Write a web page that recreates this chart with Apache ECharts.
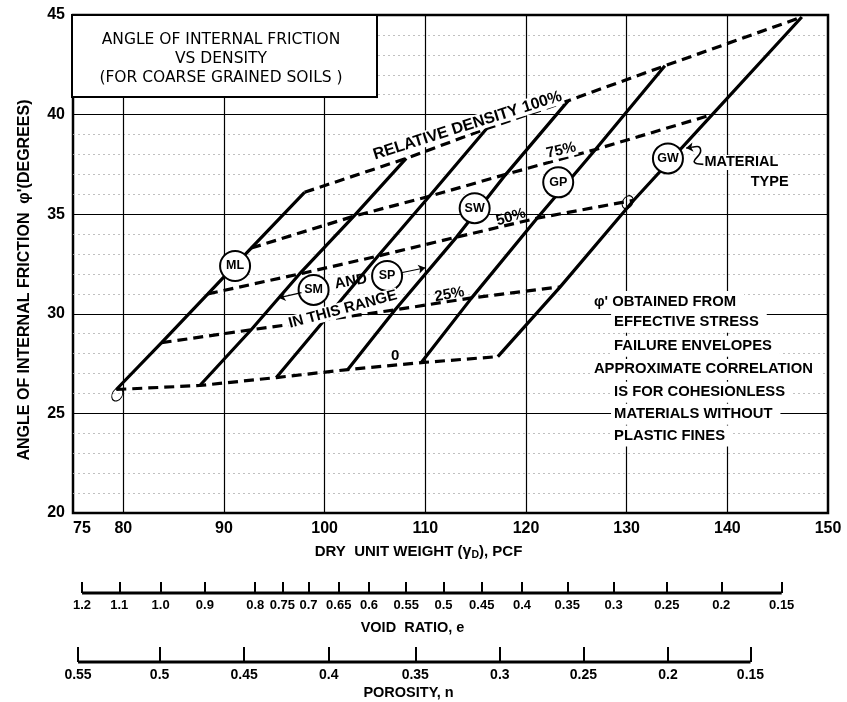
<!DOCTYPE html>
<html><head><meta charset="utf-8">
<script src="https://cdn.jsdelivr.net/npm/echarts@6/dist/echarts.min.js"></script>
<style>html,body{margin:0;padding:0;background:#fff}#c{width:847px;height:702px}</style>
</head><body><div id="c"></div>
<script>
// ---- data ----
// relative-density lines: [dry unit weight pcf, friction angle deg] where they meet material lines 1..6
const rd0   = [[79.3,26.2],[87.6,26.4],[95.2,26.8],[102.3,27.2],[109.6,27.55],[117.2,27.85]];
const rd25  = [[83.8,28.55],[92.7,29.2],[100.0,29.7],[107.0,30.2],[114.6,30.8],[123.4,31.35]];
const rd50  = [[88.4,31.0],[97.5,32.0],[105.3,32.9],[113.1,33.85],[121.1,34.8],[130.7,35.7]];
const rd75  = [[92.7,33.3],[102.9,34.9],[110.4,35.9],[118.0,37.0],[126.9,38.25],[138.5,40.0]];
const rd100 = [[98.0,36.1],[108.1,37.8],[116.1,39.3],[124.2,40.7],[133.8,42.45],[147.4,44.9]];
const materialTypes = ['ML','SM','SP','SW','GP','GW'];
const materialMarks = [[91.1,32.4],[98.9,31.2],[106.2,31.9],[114.9,35.3],[123.2,36.6],[134.1,37.8]];
const loopMarks = [[79.4,25.95],[130.1,35.6]];
const xTickValues = [75,80,90,100,110,120,130,140,150];
const xGridValues = [80,90,100,110,120,130,140];
const voidRatioLabels = ['1.2','1.1','1.0','0.9','0.8','0.75','0.7','0.65','0.6','0.55','0.5','0.45','0.4','0.35','0.3','0.25','0.2','0.15'];
const voidRatioAtPcf  = [75.9,79.6,83.7,88.1,93.1,95.8,98.4,101.4,104.4,108.1,111.8,115.6,119.6,124.1,128.7,134.0,139.4,145.4];
const porosityLabels = ['0.55','0.5','0.45','0.4','0.35','0.3','0.25','0.2','0.15'];
const porosityAtPcf  = [75.5,83.6,92.0,100.4,109.0,117.4,125.7,134.1,142.3];

// ---- annotations ----
const chartNotes = [
  {text:'RELATIVE DENSITY 100%', at:[114.2,39.45], rotate:17.5, size:16, bg:true},
  {text:'75%', at:[123.5,38.2], rotate:13, size:15, bg:true},
  {text:'50%', at:[118.5,34.85], rotate:17, size:15},
  {text:'25%', at:[112.4,30.97], rotate:10, size:15},
  {text:'0', at:[107.0,27.9], rotate:0, size:15},
  {text:'AND', at:[102.6,31.62], rotate:10, size:15},
  {text:'IN THIS RANGE', at:[101.8,30.22], rotate:15, size:15, bg:true},
  {text:'MATERIAL', at:[141.4,37.6], rotate:0, size:14.5, bg:true},
  {text:'TYPE', at:[144.2,36.63], rotate:0, size:14.5, bg:true}
];
const blockNotes = [
  {text:"\u03C6' OBTAINED FROM", at:[126.4,30.62]},
  {text:'EFFECTIVE STRESS', at:[128.4,29.57]},
  {text:'FAILURE ENVELOPES', at:[128.4,28.37]},
  {text:'APPROXIMATE CORRELATION', at:[126.4,27.21]},
  {text:'IS FOR COHESIONLESS', at:[128.4,26.06]},
  {text:'MATERIALS WITHOUT', at:[128.4,24.96]},
  {text:'PLASTIC FINES', at:[128.4,23.86]}
];
// hand-drawn pointers (SM -> line, SP -> line, GW squiggle)
const pointers = [
  [[97.7,31.06],[95.4,30.8]],
  [[107.6,32.06],[110.0,32.31]],
  [[136.5,38.36],[135.9,38.32]]
];
const squiggle = [[136.5,38.36],[137.0,38.4],[137.35,38.18],[136.7,37.64],[137.65,37.5]];

const FONT = '"Liberation Sans", "DejaVu Sans", sans-serif';
const L = 73, R = 19, LW = 3.2;

const densitySets = [rd0, rd25, rd50, rd75, rd100];
const densityNames = ['0%','25%','50%','75%','100%'];

function lookup(vals, labels, v){
  for (let i=0;i<vals.length;i++) if (Math.abs(vals[i]-v)<1e-6) return labels[i];
  return '';
}

const series = [];
// vertical grid lines
series.push({type:'line', data:[], silent:true, z:1,
  markLine:{silent:true, symbol:'none', z:1, label:{show:false},
    lineStyle:{color:'#000', width:1.2, type:'solid', opacity:1},
    emphasis:{disabled:true},
    data:xGridValues.map(v=>({xAxis:v}))}});
// relative density (dashed)
densitySets.forEach((set,k)=>{
  series.push({type:'line', name:'Relative density '+densityNames[k], data:set, symbol:'none', silent:true, z:3,
    lineStyle:{color:'#000', width:LW, type:[10,6], opacity:1}});
});
// material lines (solid)
materialTypes.forEach((m,i)=>{
  series.push({type:'line', name:m+' line', data:densitySets.map(s=>s[i]), symbol:'none', silent:true, z:3,
    lineStyle:{color:'#000', width:LW, type:'solid', opacity:1}});
});
// squiggle + pointers
series.push({type:'line', data:squiggle, symbol:'none', smooth:true, silent:true, z:6,
  lineStyle:{color:'#000', width:1.6, opacity:1},
  markLine:{silent:true, symbol:['none','arrow'], symbolSize:7, z:9, label:{show:false},
    lineStyle:{color:'#000', width:1.2, type:'solid', opacity:1},
    data:pointers.map(p=>[{coord:p[0]},{coord:p[1]}])}});
// small hand loops
series.push({type:'scatter', data:loopMarks, symbol:'circle', symbolSize:[10,14], symbolRotate:-30, silent:true, z:4,
  itemStyle:{color:'rgba(0,0,0,0)', borderColor:'#000', borderWidth:1, opacity:1}});
// material circles
series.push({type:'scatter', name:'Material type', z:8, silent:true,
  data:materialMarks.map((p,i)=>({value:p, name:materialTypes[i]})),
  symbol:'circle', symbolSize:30,
  itemStyle:{color:'#fff', borderColor:'#000', borderWidth:2, opacity:1},
  label:{show:true, position:'inside', formatter:'{b}', color:'#000', fontFamily:FONT, fontWeight:'bold', fontSize:12.5}});
// in-chart notes
series.push({type:'scatter', z:10, silent:true, symbolSize:1, itemStyle:{color:'rgba(0,0,0,0)', opacity:1},
  data:chartNotes.map(n=>({value:n.at, label:{show:true, formatter:n.text, position:'inside', rotate:n.rotate,
    color:'#000', fontFamily:FONT, fontWeight:'bold', fontSize:n.size,
    backgroundColor:n.bg?'#fff':'transparent', padding:[0,1]}}))});
// note block
series.push({type:'scatter', z:10, silent:true, symbolSize:1, itemStyle:{color:'rgba(0,0,0,0)', opacity:1},
  data:blockNotes.map(n=>({value:n.at, label:{show:true, formatter:n.text, position:'right', distance:0,
    color:'#000', fontFamily:FONT, fontWeight:'bold', fontSize:14.8,
    backgroundColor:'#fff', padding:[3,8,3,3]}}))});
// void ratio bar
series.push({type:'line', xAxisIndex:1, yAxisIndex:1, clip:false, symbol:'none', silent:true,
  data:[[voidRatioAtPcf[0],0],[voidRatioAtPcf[voidRatioAtPcf.length-1],0]],
  lineStyle:{color:'#000', width:2.8, opacity:1}});
// porosity bar
series.push({type:'line', xAxisIndex:2, yAxisIndex:2, clip:false, symbol:'none', silent:true,
  data:[[porosityAtPcf[0],0],[porosityAtPcf[porosityAtPcf.length-1],0]],
  lineStyle:{color:'#000', width:2.8, opacity:1}});

const option = {
  backgroundColor:'#fff',
  animation:false,
  grid:[
    {left:L, right:R, top:15, bottom:189, show:true, borderColor:'#000', borderWidth:2.5, backgroundColor:'#fff'},
    {left:L, right:R, top:582, height:11, show:false},
    {left:L, right:R, top:647, height:15, show:false}
  ],
  xAxis:[
    {type:'value', gridIndex:0, min:75, max:150,
      axisLine:{show:false}, axisTick:{show:false}, splitLine:{show:false},
      axisLabel:{customValues:xTickValues, margin:8, color:'#000', fontFamily:FONT, fontWeight:'bold', fontSize:16, alignMinLabel:'left'},
      name:'DRY  UNIT WEIGHT ({g|\u03B3}{s|D}), PCF', nameLocation:'middle', nameGap:29,
      nameTextStyle:{color:'#000', fontFamily:FONT, fontWeight:'bold', fontSize:15, padding:[0,64,0,0],
        rich:{g:{fontFamily:FONT, fontSize:16, color:'#000'}, s:{fontFamily:FONT, fontWeight:'bold', fontSize:10.5, color:'#000', padding:[8,0,0,0]}}}},
    {type:'value', gridIndex:1, min:75, max:150,
      axisLine:{show:false}, splitLine:{show:false},
      axisTick:{show:true, inside:true, length:11, customValues:voidRatioAtPcf, lineStyle:{color:'#000', width:2}},
      axisLabel:{customValues:voidRatioAtPcf, formatter:v=>lookup(voidRatioAtPcf, voidRatioLabels, v), margin:6,
        color:'#000', fontFamily:FONT, fontWeight:'bold', fontSize:13},
      name:'VOID  RATIO, e', nameLocation:'middle', nameGap:27, nameTextStyle:{color:'#000', fontFamily:FONT, fontWeight:'bold', fontSize:14.5, padding:[0,76,0,0]}},
    {type:'value', gridIndex:2, min:75, max:150,
      axisLine:{show:false}, splitLine:{show:false},
      axisTick:{show:true, inside:true, length:15, customValues:porosityAtPcf, lineStyle:{color:'#000', width:2}},
      axisLabel:{customValues:porosityAtPcf, formatter:v=>lookup(porosityAtPcf, porosityLabels, v), margin:6,
        color:'#000', fontFamily:FONT, fontWeight:'bold', fontSize:14},
      name:'POROSITY, n', nameLocation:'middle', nameGap:23, nameTextStyle:{color:'#000', fontFamily:FONT, fontWeight:'bold', fontSize:14.5, padding:[0,84,0,0]}}
  ],
  yAxis:[
    {type:'value', gridIndex:0, min:20, max:45, interval:5,
      axisLine:{show:false}, axisTick:{show:false},
      splitLine:{show:true, lineStyle:{color:'#000', width:1.2}},
      minorTick:{show:false, splitNumber:5},
      minorSplitLine:{show:true, lineStyle:{color:'#b0b0b0', width:0.8, type:[2,3]}},
      axisLabel:{margin:8, color:'#000', fontFamily:FONT, fontWeight:'bold', fontSize:16},
      name:"ANGLE OF INTERNAL FRICTION  \u03C6'(DEGREES)", nameLocation:'middle', nameRotate:90, nameGap:40,
      nameTextStyle:{color:'#000', fontFamily:FONT, fontWeight:'bold', fontSize:16, padding:[0,32,0,0]}},
    {type:'value', gridIndex:1, min:0, max:1, show:false},
    {type:'value', gridIndex:2, min:0, max:1, show:false}
  ],
  graphic:[
    {type:'rect', z:100, shape:{x:72, y:15, width:305, height:82}, style:{fill:'#fff', stroke:'#000', lineWidth:2}},
    {type:'text', z:101, x:221, y:59, style:{text:'ANGLE OF INTERNAL FRICTION\nVS DENSITY\n(FOR COARSE GRAINED SOILS )',
      align:'center', verticalAlign:'middle', fontFamily:'"DejaVu Sans", sans-serif', fontSize:15.5, lineHeight:19, fill:'#000'}}
  ],
  series:series
};
const chart = echarts.init(document.getElementById('c'), null, {renderer:'canvas'});
chart.setOption(option);
</script></body></html>
